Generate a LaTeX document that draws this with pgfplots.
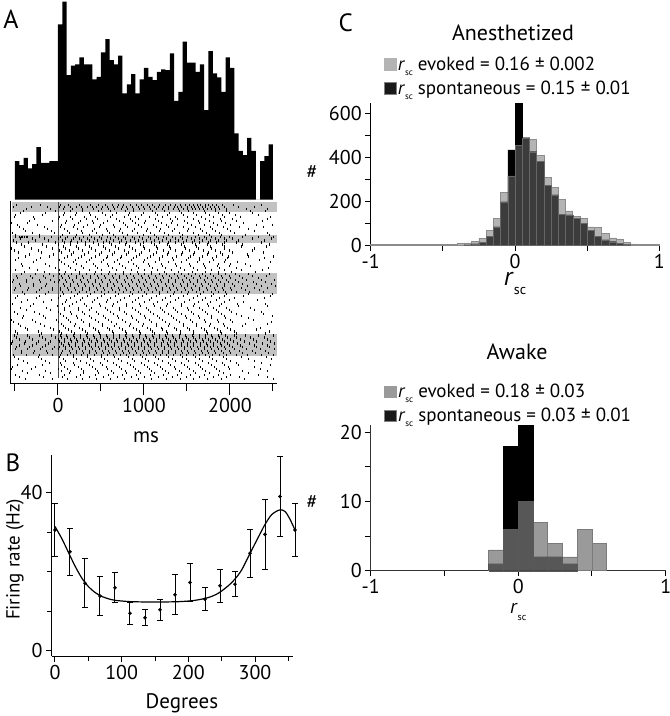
\documentclass[border=0pt]{standalone}
\usepackage{fontspec}
\setmainfont{PT Sans}
\usepackage{pgfplots}
\pgfplotsset{compat=1.18}

\definecolor{band}{HTML}{C2C2C2}
\definecolor{evA}{HTML}{B4B4B4}
\definecolor{evAe}{HTML}{8C8C8C}
\definecolor{ovA}{HTML}{3C3C3C}
\definecolor{evB}{HTML}{9A9A9A}
\definecolor{evBe}{HTML}{7A7A7A}
\definecolor{ovB}{HTML}{575757}

\newcommand\fs[1]{\fontsize{#1}{#1}\selectfont}
\newcommand\rsc[2]{\textit{r}\raisebox{#2}{\fs{#1}sc}}

\pgfplotsset{
  panel/.style={
    scale only axis, clip=false, anchor=south west,
    axis x line=bottom, axis y line=left,
    axis line style={-, line width=1pt},
    tick align=outside, tick style={black, line width=1pt},
    /pgf/number format/assume math mode=true,
  },
}

\begin{document}
\begin{tikzpicture}

% ---- A: PSTH
\begin{axis}[at={(10pt,-199.5pt)}, anchor=south west, scale only axis,
  width=267.3pt, height=197.8pt, xmin=-55.8, xmax=255, ymin=0, ymax=593,
  hide axis, clip=false]
\addplot[fill=black, draw=none, const plot] coordinates {
(-50,115)(-45,103)(-40,125)(-35,93)(-30,106)(-25,157)(-20,110)(-15,110)(-10,115)(-5,115)
(0,525)(5,593)(10,373)(15,401)(20,405)(25,426)(30,405)(35,405)(40,360)(45,368)
(50,441)(55,481)(60,418)(65,405)(70,431)(75,318)(80,345)(85,376)(90,318)(95,360)
(100,395)(105,368)(110,358)(115,383)(120,390)(125,388)(130,438)(135,296)(140,323)(145,473)
(150,410)(155,410)(160,383)(165,405)(170,268)(175,445)(180,378)(185,366)(190,323)(195,426)
(200,395)(205,198)(210,146)(215,133)(220,185)(225,146)(230,0)(235,115)(240,130)(245,165)
(250,165)} \closedcycle;
\node[font=\fs{26}] at (axis description cs:0.004,0.913) {A};
\end{axis}

% ---- A: raster
\begin{axis}[panel, at={(10pt,-383pt)},
  width=267.3pt, height=182pt, xmin=-55.8, xmax=255, ymin=0, ymax=46,
  xtick={0,100,200}, xticklabels={0,1000,2000}, minor xtick={-50,50,150,250},
  ytick=\empty, major tick length=12pt, minor tick length=8pt,
  xticklabel style={font=\fs{20}},
  xlabel={ms}, xlabel style={font=\fs{21}, at={(axis description cs:0.509,-0.297)}, anchor=center}]
\addplot[fill=band, draw=none] coordinates {(-53.5,43.2)(255,43.2)(255,45.7)(-53.5,45.7)};
\addplot[fill=band, draw=none] coordinates {(-53.5,35.4)(255,35.4)(255,37.4)(-53.5,37.4)};
\addplot[fill=band, draw=none] coordinates {(-53.5,22.5)(255,22.5)(255,27.8)(-53.5,27.8)};
\addplot[fill=band, draw=none] coordinates {(-53.5,6.8)(255,6.8)(255,12.4)(-53.5,12.4)};
\addplot[gray!60!black, line width=0.8pt] coordinates {(0,1.2)(0,45.8)};
\addplot[only marks, mark=|, mark size=1.1pt, mark options={line width=0.9pt}, black] coordinates {
(-48,45)(-20,45)(3,45)(12,45)(25,45)(38,45)(47,45)(55,45)(63,45)(70,45)(76,45)(84,45)(91,45)(97,45)(104,45)(110,45)(118,45)(125,45)(131,45)(137,45)(142,45)(148,45)(153,45)(157,45)(162,45)(166,45)(171,45)(175,45)(180,45)(184,45)(191,45)(204,45)(236,45)
(-37,44)(-9,44)(6,44)(17,44)(29,44)(41,44)(50,44)(59,44)(66,44)(74,44)(81,44)(88,44)(95,44)(101,44)(108,44)(115,44)(121,44)(128,44)(134,44)(140,44)(146,44)(151,44)(156,44)(160,44)(165,44)(169,44)(174,44)(178,44)(183,44)(188,44)(196,44)(219,44)(243,44)
(-44,43)(-15,43)(8,43)(21,43)(36,43)(52,43)(68,43)(83,43)(99,43)(113,43)(130,43)(144,43)(158,43)(171,43)(187,43)(199,43)(226,43)
(-51,42)(-28,42)(2,42)(14,42)(31,42)(44,42)(61,42)(77,42)(90,42)(106,42)(122,42)(137,42)(150,42)(167,42)(181,42)(194,42)(212,42)(247,42)
(-33,41)(-6,41)(10,41)(26,41)(40,41)(57,41)(71,41)(87,41)(102,41)(117,41)(133,41)(147,41)(163,41)(176,41)(190,41)(208,41)(238,41)
(-47,40)(-24,40)(4,40)(19,40)(34,40)(49,40)(65,40)(79,40)(94,40)(111,40)(126,40)(139,40)(155,40)(170,40)(185,40)(201,40)(231,40)(249,40)
(-40,39)(-12,39)(7,39)(23,39)(42,39)(56,39)(73,39)(89,39)(104,39)(119,39)(135,39)(152,39)(166,39)(180,39)(197,39)(221,39)
(-53,38)(-30,38)(-4,38)(13,38)(28,38)(45,38)(60,38)(75,38)(92,38)(108,38)(124,38)(141,38)(157,38)(173,38)(188,38)(205,38)(244,38)
(-49,37)(-45,37)(-43,37)(-41,37)(-39,37)(-37,37)(-35,37)(-22,37)(-8,37)(3,37)(11,37)(20,37)(30,37)(39,37)(48,37)(58,37)(67,37)(76,37)(86,37)(95,37)(105,37)(114,37)(123,37)(133,37)(142,37)(151,37)(160,37)(170,37)(179,37)(189,37)(199,37)(214,37)(233,37)(251,37)
(-52,36)(-26,36)(-11,36)(5,36)(16,36)(27,36)(37,36)(46,36)(56,36)(65,36)(74,36)(84,36)(93,36)(103,36)(112,36)(121,36)(131,36)(140,36)(149,36)(159,36)(168,36)(177,36)(187,36)(196,36)(210,36)(240,36)
(-42,35)(-18,35)(1,35)(15,35)(32,35)(47,35)(62,35)(78,35)(96,35)(112,35)(127,35)(143,35)(160,35)(174,35)(191,35)(215,35)(246,35)
(-54,34)(-31,34)(-7,34)(9,34)(24,34)(39,34)(55,34)(70,34)(86,34)(100,34)(116,34)(131,34)(148,34)(163,34)(178,34)(193,34)(228,34)
(-46,33)(-19,33)(4,33)(18,33)(35,33)(51,33)(66,33)(82,33)(97,33)(114,33)(129,33)(145,33)(159,33)(175,33)(189,33)(203,33)(239,33)
(-38,32)(-10,32)(11,32)(27,32)(43,32)(58,32)(74,32)(91,32)(107,32)(122,32)(138,32)(154,32)(168,32)(184,32)(198,32)(222,32)(250,32)
(-50,31)(-25,31)(2,31)(20,31)(37,31)(53,31)(69,31)(85,31)(101,31)(118,31)(134,31)(149,31)(165,31)(181,31)(195,31)(234,31)
(-43,30)(-14,30)(7,30)(22,30)(41,30)(57,30)(72,30)(88,30)(105,30)(120,30)(136,30)(153,30)(169,30)(186,30)(200,30)(218,30)
(-55,29)(-33,29)(-3,29)(14,29)(30,29)(46,29)(63,29)(79,29)(94,29)(110,29)(125,29)(142,29)(157,29)(172,29)(188,29)(207,29)(245,29)
(-39,28)(-16,28)(9,28)(25,28)(44,28)(60,28)(76,28)(92,28)(109,28)(124,28)(140,28)(156,28)(171,28)(187,28)(202,28)(230,28)
(-48,27)(-32,27)(-17,27)(-5,27)(4,27)(12,27)(21,27)(29,27)(38,27)(46,27)(54,27)(63,27)(71,27)(80,27)(88,27)(97,27)(105,27)(113,27)(122,27)(130,27)(139,27)(147,27)(155,27)(164,27)(172,27)(181,27)(190,27)(199,27)(211,27)(226,27)(242,27)
(-52,26)(-37,26)(-22,26)(-9,26)(2,26)(9,26)(17,26)(26,26)(34,26)(43,26)(51,26)(60,26)(68,26)(77,26)(85,26)(94,26)(102,26)(111,26)(119,26)(128,26)(136,26)(145,26)(153,26)(162,26)(170,26)(179,26)(187,26)(196,26)(206,26)(219,26)(237,26)(252,26)
(-45,25)(-28,25)(-13,25)(6,25)(14,25)(23,25)(31,25)(40,25)(48,25)(57,25)(65,25)(74,25)(82,25)(91,25)(99,25)(108,25)(116,25)(125,25)(133,25)(142,25)(150,25)(158,25)(167,25)(175,25)(184,25)(193,25)(203,25)(215,25)(231,25)(248,25)
(-50,24)(-34,24)(-19,24)(-6,24)(3,24)(11,24)(19,24)(28,24)(36,24)(45,24)(53,24)(62,24)(70,24)(79,24)(87,24)(96,24)(104,24)(113,24)(121,24)(130,24)(138,24)(147,24)(155,24)(164,24)(173,24)(182,24)(191,24)(201,24)(213,24)(228,24)(244,24)
(-41,23)(-25,23)(-11,23)(5,23)(16,23)(25,23)(33,23)(42,23)(50,23)(59,23)(67,23)(76,23)(84,23)(93,23)(101,23)(110,23)(118,23)(127,23)(135,23)(144,23)(152,23)(161,23)(169,23)(178,23)(186,23)(195,23)(208,23)(223,23)(239,23)
(-47,22)(-21,22)(3,22)(19,22)(34,22)(50,22)(67,22)(83,22)(98,22)(115,22)(131,22)(146,22)(162,22)(178,22)(193,22)(216,22)(247,22)
(-36,21)(-8,21)(10,21)(26,21)(42,21)(58,21)(73,21)(90,21)(106,21)(121,21)(137,21)(153,21)(168,21)(184,21)(199,21)(232,21)
(-53,20)(-29,20)(5,20)(17,20)(31,20)(48,20)(64,20)(80,20)(95,20)(111,20)(127,20)(143,20)(159,20)(174,20)(190,20)(209,20)(241,20)
(-44,19)(-13,19)(8,19)(24,19)(39,19)(55,19)(71,19)(87,19)(103,19)(119,19)(134,19)(150,19)(165,19)(181,19)(196,19)(224,19)
(-51,18)(-27,18)(1,18)(14,18)(29,18)(45,18)(61,18)(77,18)(93,18)(108,18)(124,18)(139,18)(155,18)(171,18)(186,18)(202,18)(236,18)
(-40,17)(-17,17)(6,17)(21,17)(37,17)(53,17)(69,17)(85,17)(100,17)(116,17)(132,17)(148,17)(163,17)(179,17)(194,17)(213,17)(249,17)
(-54,16)(-30,16)(-2,16)(12,16)(27,16)(43,16)(59,16)(75,16)(91,16)(106,16)(122,16)(138,16)(154,16)(170,16)(185,16)(200,16)(227,16)
(-46,15)(-20,15)(4,15)(20,15)(36,15)(52,15)(68,15)(84,15)(99,15)(115,15)(130,15)(146,15)(161,15)(177,15)(192,15)(218,15)(243,15)
(-38,14)(-9,14)(9,14)(25,14)(41,14)(57,14)(72,14)(88,14)(104,14)(120,14)(135,14)(151,14)(167,14)(182,14)(197,14)(235,14)
(-49,13)(-23,13)(2,13)(16,13)(32,13)(47,13)(63,13)(79,13)(95,13)(110,13)(126,13)(142,13)(158,13)(173,13)(189,13)(205,13)(246,13)
(-51,12)(-36,12)(-22,12)(-8,12)(3,12)(10,12)(18,12)(26,12)(33,12)(41,12)(49,12)(56,12)(64,12)(72,12)(79,12)(87,12)(95,12)(102,12)(110,12)(118,12)(125,12)(133,12)(141,12)(148,12)(156,12)(164,12)(171,12)(179,12)(187,12)(195,12)(205,12)(218,12)(233,12)(250,12)
(-45,11)(-30,11)(-15,11)(1,11)(7,11)(14,11)(22,11)(30,11)(37,11)(45,11)(53,11)(60,11)(68,11)(76,11)(83,11)(91,11)(99,11)(106,11)(114,11)(122,11)(129,11)(137,11)(145,11)(152,11)(160,11)(168,11)(175,11)(183,11)(191,11)(200,11)(212,11)(227,11)(243,11)
(-54,10)(-39,10)(-25,10)(-11,10)(4,10)(12,10)(20,10)(28,10)(35,10)(43,10)(51,10)(58,10)(66,10)(74,10)(81,10)(89,10)(97,10)(104,10)(112,10)(120,10)(127,10)(135,10)(143,10)(150,10)(158,10)(166,10)(173,10)(181,10)(189,10)(197,10)(209,10)(223,10)(238,10)(252,10)
(-48,9)(-33,9)(-18,9)(-4,9)(2,9)(9,9)(16,9)(24,9)(32,9)(39,9)(47,9)(55,9)(62,9)(70,9)(78,9)(85,9)(93,9)(101,9)(108,9)(116,9)(124,9)(131,9)(139,9)(147,9)(154,9)(162,9)(170,9)(177,9)(185,9)(193,9)(203,9)(215,9)(231,9)(246,9)
(-42,8)(-27,8)(-13,8)(5,8)(13,8)(21,8)(29,8)(36,8)(44,8)(52,8)(59,8)(67,8)(75,8)(82,8)(90,8)(98,8)(105,8)(113,8)(121,8)(128,8)(136,8)(144,8)(151,8)(159,8)(167,8)(174,8)(182,8)(190,8)(199,8)(211,8)(226,8)(241,8)
(-52,7)(-37,7)(-21,7)(-7,7)(3,7)(11,7)(18,7)(27,7)(34,7)(42,7)(50,7)(57,7)(65,7)(73,7)(80,7)(88,7)(96,7)(103,7)(111,7)(119,7)(126,7)(134,7)(142,7)(149,7)(157,7)(165,7)(172,7)(180,7)(188,7)(196,7)(207,7)(220,7)(236,7)(251,7)
(-46,6)(-19,6)(6,6)(22,6)(38,6)(54,6)(70,6)(86,6)(102,6)(117,6)(133,6)(149,6)(164,6)(180,6)(196,6)(221,6)(248,6)
(-35,5)(-10,5)(3,5)(18,5)(33,5)(49,5)(65,5)(81,5)(97,5)(112,5)(128,5)(144,5)(160,5)(175,5)(191,5)(207,5)(237,5)
(-53,4)(-26,4)(8,4)(24,4)(40,4)(56,4)(72,4)(88,4)(104,4)(119,4)(135,4)(151,4)(166,4)(182,4)(198,4)(229,4)
(-41,3)(-14,3)(4,3)(15,3)(30,3)(46,3)(62,3)(78,3)(94,3)(109,3)(125,3)(141,3)(157,3)(172,3)(188,3)(214,3)(244,3)
(-49,2)(-22,2)(7,2)(26,2)(43,2)(59,2)(75,2)(91,2)(107,2)(123,2)(139,2)(154,2)(170,2)(186,2)(201,2)(233,2)
(-38,1)(-6,1)(11,1)(28,1)(45,1)(61,1)(77,1)(93,1)(109,1)(126,1)(142,1)(158,1)(174,1)(190,1)(217,1)(250,1)
};
\addplot[only marks, mark=|, mark size=1.1pt, mark options={line width=0.9pt}, black] coordinates {
(-52,44.5)(-31,44.5)(-12,44.5)(2,44.5)(8,44.5)(15,44.5)(22,44.5)(27,44.5)(34,44.5)(40,44.5)(45,44.5)(52,44.5)(58,44.5)(64,44.5)(69,44.5)(75,44.5)(80,44.5)(86,44.5)(93,44.5)(99,44.5)(106,44.5)(112,44.5)(117,44.5)(123,44.5)(129,44.5)(135,44.5)(139,44.5)(144,44.5)(150,44.5)(155,44.5)(159,44.5)(163,44.5)(168,44.5)(172,44.5)(177,44.5)(182,44.5)(186,44.5)(193,44.5)(210,44.5)(228,44.5)
(-40,43.5)(-3,43.5)(14,43.5)(29,43.5)(47,43.5)(61,43.5)(79,43.5)(88,43.5)(110,43.5)(124,43.5)(141,43.5)(152,43.5)(170,43.5)(183,43.5)(196,43.5)(224,43.5)(241,43.5)
(-49,42.5)(-18,42.5)(6,42.5)(20,42.5)(38,42.5)(55,42.5)(63,42.5)(82,42.5)(97,42.5)(116,42.5)(127,42.5)(146,42.5)(161,42.5)(176,42.5)(191,42.5)(206,42.5)(233,42.5)
(-27,41.5)(1,41.5)(17,41.5)(33,41.5)(46,41.5)(68,41.5)(84,41.5)(93,41.5)(113,41.5)(131,41.5)(139,41.5)(158,41.5)(172,41.5)(189,41.5)(203,41.5)(244,41.5)
(-54,40.5)(-36,40.5)(9,40.5)(24,40.5)(41,40.5)(53,40.5)(76,40.5)(90,40.5)(101,40.5)(120,40.5)(132,40.5)(151,40.5)(164,40.5)(181,40.5)(195,40.5)(216,40.5)
(-45,39.5)(-16,39.5)(3,39.5)(18,39.5)(30,39.5)(48,39.5)(66,39.5)(81,39.5)(97,39.5)(114,39.5)(128,39.5)(146,39.5)(160,39.5)(177,39.5)(192,39.5)(211,39.5)(239,39.5)
(-38,38.5)(-8,38.5)(11,38.5)(27,38.5)(40,38.5)(58,38.5)(71,38.5)(86,38.5)(103,38.5)(118,38.5)(133,38.5)(150,38.5)(168,38.5)(183,38.5)(200,38.5)(229,38.5)
(-50,37.5)(-21,37.5)(5,37.5)(21,37.5)(37,37.5)(52,37.5)(65,37.5)(81,37.5)(99,37.5)(112,37.5)(129,37.5)(145,37.5)(163,37.5)(176,37.5)(190,37.5)(218,37.5)(246,37.5)
(-44,36.5)(-30,36.5)(-16,36.5)(1,36.5)(9,36.5)(18,36.5)(25,36.5)(34,36.5)(42,36.5)(51,36.5)(61,36.5)(70,36.5)(79,36.5)(89,36.5)(98,36.5)(108,36.5)(117,36.5)(126,36.5)(136,36.5)(145,36.5)(155,36.5)(164,36.5)(173,36.5)(183,36.5)(193,36.5)(203,36.5)(226,36.5)(248,36.5)
(-48,35.5)(-34,35.5)(-3,35.5)(8,35.5)(14,35.5)(23,35.5)(32,35.5)(41,35.5)(53,35.5)(60,35.5)(71,35.5)(80,35.5)(90,35.5)(99,35.5)(109,35.5)(118,35.5)(128,35.5)(137,35.5)(146,35.5)(156,35.5)(165,35.5)(175,35.5)(184,35.5)(194,35.5)(207,35.5)(236,35.5)
(-39,34.5)(-13,34.5)(6,34.5)(22,34.5)(37,34.5)(53,34.5)(67,34.5)(83,34.5)(99,34.5)(115,34.5)(130,34.5)(147,34.5)(161,34.5)(177,34.5)(194,34.5)(213,34.5)(242,34.5)
(-51,33.5)(-23,33.5)(2,33.5)(13,33.5)(29,33.5)(44,33.5)(60,33.5)(77,33.5)(90,33.5)(106,33.5)(123,33.5)(137,33.5)(153,33.5)(169,33.5)(183,33.5)(199,33.5)(226,33.5)
(-33,32.5)(-5,32.5)(16,32.5)(31,32.5)(48,32.5)(63,32.5)(80,32.5)(95,32.5)(111,32.5)(127,32.5)(143,32.5)(157,32.5)(174,32.5)(191,32.5)(220,32.5)
(-46,31.5)(-20,31.5)(8,31.5)(24,31.5)(39,31.5)(56,31.5)(73,31.5)(88,31.5)(104,31.5)(118,31.5)(133,31.5)(152,31.5)(165,31.5)(180,31.5)(197,31.5)(240,31.5)
(-55,30.5)(-28,30.5)(4,30.5)(18,30.5)(33,30.5)(50,30.5)(66,30.5)(82,30.5)(99,30.5)(113,30.5)(128,30.5)(144,30.5)(162,30.5)(176,30.5)(193,30.5)(209,30.5)(247,30.5)
(-41,29.5)(-10,29.5)(12,29.5)(27,29.5)(43,29.5)(59,29.5)(75,29.5)(91,29.5)(106,29.5)(121,29.5)(138,29.5)(154,29.5)(170,29.5)(185,29.5)(199,29.5)(224,29.5)
(-49,28.5)(-24,28.5)(2,28.5)(20,28.5)(36,28.5)(51,28.5)(68,28.5)(85,28.5)(100,28.5)(116,28.5)(132,28.5)(147,28.5)(162,28.5)(179,28.5)(194,28.5)(213,28.5)(238,28.5)
(-43,27.5)(-26,27.5)(-10,27.5)(2,27.5)(8,27.5)(16,27.5)(25,27.5)(33,27.5)(42,27.5)(50,27.5)(59,27.5)(67,27.5)(76,27.5)(84,27.5)(93,27.5)(101,27.5)(109,27.5)(118,27.5)(126,27.5)(135,27.5)(143,27.5)(152,27.5)(160,27.5)(168,27.5)(177,27.5)(186,27.5)(195,27.5)(206,27.5)(222,27.5)(246,27.5)
(-47,26.5)(-30,26.5)(-14,26.5)(5,26.5)(13,26.5)(21,26.5)(30,26.5)(38,26.5)(47,26.5)(55,26.5)(64,26.5)(72,26.5)(81,26.5)(89,26.5)(98,26.5)(106,26.5)(115,26.5)(123,26.5)(132,26.5)(140,26.5)(149,26.5)(157,26.5)(166,26.5)(174,26.5)(183,26.5)(191,26.5)(201,26.5)(214,26.5)(233,26.5)
(-53,25.5)(-37,25.5)(-20,25.5)(-4,25.5)(1,25.5)(10,25.5)(18,25.5)(27,25.5)(35,25.5)(44,25.5)(52,25.5)(61,25.5)(69,25.5)(78,25.5)(86,25.5)(95,25.5)(103,25.5)(112,25.5)(120,25.5)(129,25.5)(137,25.5)(146,25.5)(154,25.5)(162,25.5)(171,25.5)(180,25.5)(189,25.5)(198,25.5)(210,25.5)(227,25.5)(241,25.5)
(-44,24.5)(-29,24.5)(-14,24.5)(7,24.5)(15,24.5)(24,24.5)(32,24.5)(41,24.5)(49,24.5)(58,24.5)(66,24.5)(75,24.5)(83,24.5)(92,24.5)(100,24.5)(109,24.5)(117,24.5)(126,24.5)(134,24.5)(143,24.5)(151,24.5)(160,24.5)(168,24.5)(177,24.5)(185,24.5)(194,24.5)(205,24.5)(220,24.5)(236,24.5)(253,24.5)
(-51,23.5)(-36,23.5)(-21,23.5)(-7,23.5)(3,23.5)(12,23.5)(20,23.5)(29,23.5)(37,23.5)(46,23.5)(54,23.5)(63,23.5)(71,23.5)(80,23.5)(88,23.5)(97,23.5)(105,23.5)(114,23.5)(122,23.5)(131,23.5)(139,23.5)(148,23.5)(156,23.5)(165,23.5)(174,23.5)(183,23.5)(192,23.5)(202,23.5)(218,23.5)(234,23.5)
(-39,22.5)(-15,22.5)(6,22.5)(23,22.5)(38,22.5)(54,22.5)(70,22.5)(86,22.5)(103,22.5)(118,22.5)(134,22.5)(150,22.5)(166,22.5)(181,22.5)(196,22.5)(221,22.5)(249,22.5)
(-50,21.5)(-25,21.5)(1,21.5)(15,21.5)(29,21.5)(46,21.5)(61,21.5)(77,21.5)(94,21.5)(109,21.5)(125,21.5)(140,21.5)(157,21.5)(171,21.5)(188,21.5)(205,21.5)(240,21.5)
(-42,20.5)(-17,20.5)(9,20.5)(22,20.5)(40,20.5)(56,20.5)(69,20.5)(86,20.5)(100,20.5)(116,20.5)(131,20.5)(147,20.5)(163,20.5)(177,20.5)(194,20.5)(216,20.5)
(-55,19.5)(-32,19.5)(-1,19.5)(13,19.5)(33,19.5)(49,19.5)(63,19.5)(80,19.5)(96,19.5)(112,19.5)(126,19.5)(143,19.5)(158,19.5)(175,19.5)(188,19.5)(210,19.5)(244,19.5)
(-37,18.5)(-9,18.5)(7,18.5)(24,18.5)(37,18.5)(58,18.5)(72,18.5)(90,18.5)(105,18.5)(121,18.5)(136,18.5)(152,18.5)(168,18.5)(184,18.5)(199,18.5)(229,18.5)
(-47,17.5)(-22,17.5)(3,17.5)(16,17.5)(31,17.5)(47,17.5)(65,17.5)(80,17.5)(96,17.5)(111,17.5)(128,17.5)(144,17.5)(158,17.5)(174,17.5)(190,17.5)(207,17.5)(239,17.5)
(-41,16.5)(-14,16.5)(10,16.5)(23,16.5)(39,16.5)(55,16.5)(70,16.5)(86,16.5)(102,16.5)(118,16.5)(134,16.5)(149,16.5)(165,16.5)(179,16.5)(195,16.5)(221,16.5)
(-52,15.5)(-26,15.5)(1,15.5)(14,15.5)(30,15.5)(47,15.5)(62,15.5)(78,15.5)(93,15.5)(109,15.5)(125,15.5)(141,15.5)(156,15.5)(172,15.5)(187,15.5)(203,15.5)(248,15.5)
(-44,14.5)(-16,14.5)(6,14.5)(19,14.5)(36,14.5)(52,14.5)(66,14.5)(83,14.5)(98,14.5)(114,14.5)(129,14.5)(146,14.5)(161,14.5)(176,14.5)(193,14.5)(214,14.5)
(-35,13.5)(-5,13.5)(12,13.5)(28,13.5)(44,13.5)(60,13.5)(75,13.5)(91,13.5)(107,13.5)(122,13.5)(138,13.5)(153,13.5)(170,13.5)(185,13.5)(200,13.5)(231,13.5)
(-47,12.5)(-19,12.5)(4,12.5)(19,12.5)(34,12.5)(48,12.5)(64,12.5)(80,12.5)(96,12.5)(112,12.5)(127,12.5)(142,12.5)(158,12.5)(174,12.5)(190,12.5)(208,12.5)(241,12.5)
(-48,11.5)(-33,11.5)(-18,11.5)(-3,11.5)(4,11.5)(11,11.5)(19,11.5)(26,11.5)(34,11.5)(42,11.5)(49,11.5)(57,11.5)(65,11.5)(72,11.5)(80,11.5)(88,11.5)(95,11.5)(103,11.5)(111,11.5)(118,11.5)(126,11.5)(134,11.5)(141,11.5)(149,11.5)(157,11.5)(164,11.5)(172,11.5)(180,11.5)(188,11.5)(197,11.5)(208,11.5)(224,11.5)(240,11.5)
(-53,10.5)(-38,10.5)(-23,10.5)(-9,10.5)(2,10.5)(8,10.5)(16,10.5)(23,10.5)(31,10.5)(39,10.5)(46,10.5)(54,10.5)(62,10.5)(69,10.5)(77,10.5)(85,10.5)(92,10.5)(100,10.5)(108,10.5)(115,10.5)(123,10.5)(131,10.5)(138,10.5)(146,10.5)(154,10.5)(161,10.5)(169,10.5)(177,10.5)(185,10.5)(194,10.5)(204,10.5)(217,10.5)(231,10.5)(247,10.5)
(-45,9.5)(-30,9.5)(-14,9.5)(6,9.5)(13,9.5)(20,9.5)(28,9.5)(36,9.5)(43,9.5)(51,9.5)(59,9.5)(66,9.5)(74,9.5)(82,9.5)(89,9.5)(97,9.5)(105,9.5)(112,9.5)(120,9.5)(128,9.5)(135,9.5)(143,9.5)(151,9.5)(158,9.5)(166,9.5)(174,9.5)(181,9.5)(190,9.5)(199,9.5)(212,9.5)(229,9.5)(244,9.5)
(-50,8.5)(-35,8.5)(-20,8.5)(-6,8.5)(1,8.5)(9,8.5)(17,8.5)(25,8.5)(32,8.5)(40,8.5)(48,8.5)(55,8.5)(63,8.5)(71,8.5)(78,8.5)(86,8.5)(94,8.5)(101,8.5)(109,8.5)(117,8.5)(124,8.5)(132,8.5)(140,8.5)(147,8.5)(155,8.5)(163,8.5)(170,8.5)(178,8.5)(186,8.5)(195,8.5)(205,8.5)(219,8.5)(235,8.5)(252,8.5)
(-43,7.5)(-28,7.5)(-12,7.5)(4,7.5)(14,7.5)(22,7.5)(30,7.5)(37,7.5)(45,7.5)(53,7.5)(60,7.5)(68,7.5)(76,7.5)(83,7.5)(91,7.5)(99,7.5)(106,7.5)(114,7.5)(122,7.5)(129,7.5)(137,7.5)(145,7.5)(152,7.5)(160,7.5)(168,7.5)(175,7.5)(183,7.5)(192,7.5)(201,7.5)(214,7.5)(230,7.5)(245,7.5)
(-51,6.5)(-23,6.5)(2,6.5)(18,6.5)(34,6.5)(50,6.5)(66,6.5)(82,6.5)(98,6.5)(113,6.5)(129,6.5)(145,6.5)(160,6.5)(176,6.5)(192,6.5)(213,6.5)(242,6.5)
(-40,5.5)(-14,5.5)(9,5.5)(26,5.5)(41,5.5)(57,5.5)(74,5.5)(89,5.5)(105,5.5)(121,5.5)(137,5.5)(152,5.5)(168,5.5)(184,5.5)(200,5.5)(228,5.5)
(-47,4.5)(-18,4.5)(4,4.5)(19,4.5)(36,4.5)(52,4.5)(68,4.5)(84,4.5)(100,4.5)(116,4.5)(131,4.5)(147,4.5)(163,4.5)(178,4.5)(194,4.5)(210,4.5)(247,4.5)
(-54,3.5)(-31,3.5)(1,3.5)(11,3.5)(27,3.5)(43,3.5)(58,3.5)(74,3.5)(90,3.5)(106,3.5)(121,3.5)(137,3.5)(153,3.5)(168,3.5)(184,3.5)(199,3.5)(235,3.5)
(-36,2.5)(-9,2.5)(13,2.5)(30,2.5)(47,2.5)(64,2.5)(80,2.5)(96,2.5)(112,2.5)(128,2.5)(144,2.5)(160,2.5)(176,2.5)(192,2.5)(221,2.5)
(-45,1.5)(-17,1.5)(5,1.5)(21,1.5)(37,1.5)(53,1.5)(69,1.5)(85,1.5)(101,1.5)(117,1.5)(133,1.5)(149,1.5)(165,1.5)(181,1.5)(196,1.5)(211,1.5)(243,1.5)
};
\end{axis}

% ---- B: tuning curve
\begin{axis}[panel, at={(52pt,-656pt)},
  width=241pt, height=201pt, xmin=-4.5, xmax=357, ymin=-1.3, ymax=49.6,
  xtick={0,100,200,300}, minor xtick={50,150,250,350},
  ytick={0,40}, minor ytick={10,20,30,50},
  major tick length=6pt, minor tick length=4.5pt,
  tick label style={font=\fs{20}},
  xlabel={Degrees}, xlabel style={font=\fs{21}, at={(axis description cs:0.539,-0.234)}, anchor=center},
  ylabel={Firing rate (Hz)}, ylabel style={font=\fs{19}, at={(axis description cs:-0.154,0.48)}, anchor=center}]
\addplot[black, line width=1.2pt, smooth] coordinates {
(0,31.5)(10,28.5)(20,25.0)(30,21.5)(40,18.5)(50,16.3)(60,14.8)(70,13.8)(80,13.2)(90,12.8)
(110,12.5)(130,12.4)(150,12.4)(170,12.4)(190,12.5)(210,12.8)(230,13.5)(245,14.6)(260,16.5)
(270,18.2)(280,20.5)(292,24.5)(305,28.8)(315,32.0)(325,34.5)(337,35.7)(345,35.3)(352,33.5)(360,30.6)};
\addplot[black, only marks, mark=*, mark size=1.6pt,
  error bars/.cd, y dir=both, y explicit,
  error bar style={line width=1pt, black},
  error mark options={rotate=90, mark size=3pt, line width=1pt, black}] coordinates {
(0,30.6) +- (0,6.8)
(22.5,25.1) +- (0,6.0)
(45,17.1) +- (0,6.2)
(67.5,13.9) +- (0,5.0)
(90,16.0) +- (0,3.8)
(112.5,9.5) +- (0,2.7)
(135,8.4) +- (0,2.0)
(157.5,10.4) +- (0,2.7)
(180,14.2) +- (0,5.1)
(202.5,17.3) +- (0,4.8)
(225,13.1) +- (0,2.9)
(247.5,16.5) +- (0,4.2)
(270,16.9) +- (0,3.1)
(292.5,24.7) +- (0,6.0)
(315,29.5) +- (0,8.8)
(337.5,39.1) +- (0,10.1)
(360,30.6) +- (0,6.8)};
\node[font=\fs{25}] at (axis description cs:-0.162,0.96) {B};
\end{axis}

% ---- C: anesthetized
\begin{axis}[panel, at={(370.7pt,-245pt)},
  width=288.6pt, height=142.2pt, xmin=-1, xmax=1, ymin=0, ymax=648,
  axis line style={-, line width=1.2pt},
  xtick={-1,0,1}, minor xtick={-0.5,0.5},
  ytick={0,200,400,600}, minor ytick={100,300,500},
  major tick length=5.5pt, minor tick length=5.5pt,
  tick label style={font=\fs{20}},
  xlabel={\rsc{14}{-9pt}},
  every axis x label/.style={at={(axis description cs:0.5,-0.27)}, anchor=center, font=\fs{26}},
  ylabel={\#},
  every axis y label/.style={at={(axis description cs:-0.203,0.513)}, anchor=center, font=\fs{20}},
  title={Anesthetized},
  every axis title/.style={at={(axis description cs:0.493,1.491)}, anchor=center, font=\fs{22}},
  legend style={at={(axis description cs:0.045,1.335)}, anchor=north west, draw=none, fill=none,
    inner sep=0pt, font=\fs{19}, row sep=6pt, nodes={inner sep=1.5pt}},
  legend cell align=left]
\addplot[ybar interval, fill=evA, draw=evAe, line width=0.5pt, forget plot] coordinates {
(-1,2)(-0.95,2)(-0.9,2)(-0.85,2)(-0.8,2)(-0.75,2)(-0.7,2)(-0.65,2)(-0.6,2)(-0.55,2)
(-0.5,3)(-0.45,4)(-0.4,6)(-0.35,10)(-0.3,15)(-0.25,30)(-0.2,68)(-0.15,121)(-0.1,240)(-0.05,315)
(0,455)(0.05,492)(0.1,481)(0.15,410)(0.2,307)(0.25,261)(0.3,208)(0.35,155)(0.4,132)(0.45,121)
(0.5,83)(0.55,79)(0.6,53)(0.65,33)(0.7,26)(0.75,11)(0.8,5)(0.85,3)(0.9,2)(0.95,2)(1,2)};
\addplot[ybar interval, fill=black, draw=black, line width=0.3pt, forget plot] coordinates {
(-0.35,1)(-0.3,5)(-0.25,11)(-0.2,41)(-0.15,83)(-0.1,197)(-0.05,433)
(0,645)(0.05,486)(0.1,425)(0.15,380)(0.2,273)(0.25,228)(0.3,140)(0.35,137)(0.4,121)(0.45,99)
(0.5,68)(0.55,41)(0.6,23)(0.65,15)(0.7,8)(0.75,3)(0.8,1)};
\addplot[ybar interval, fill=ovA, draw=gray!80!black, line width=0.4pt, forget plot] coordinates {
(-0.35,1)(-0.3,5)(-0.25,11)(-0.2,41)(-0.15,83)(-0.1,197)(-0.05,315)
(0,455)(0.05,486)(0.1,425)(0.15,380)(0.2,273)(0.25,228)(0.3,140)(0.35,137)(0.4,121)(0.45,99)
(0.5,68)(0.55,41)(0.6,23)(0.65,15)(0.7,8)(0.75,3)(0.8,1)};
\addlegendimage{legend image code/.code={\draw[fill=evA, draw=evA] (0pt,-5.5pt) rectangle (12pt,6pt);}}
\addlegendentry{\rsc{9}{-5pt} evoked = 0.16 ± 0.002}
\addlegendimage{legend image code/.code={\draw[fill=black!90, draw=gray] (0pt,-5.5pt) rectangle (12pt,6pt);}}
\addlegendentry{\rsc{9}{-5pt} spontaneous = 0.15 ± 0.01}
\node[font=\fs{25}] at (axis description cs:-0.086,1.561) {C};
\end{axis}

% ---- C: awake
\begin{axis}[panel, at={(370.7pt,-570.7pt)},
  width=295pt, height=145.3pt, xmin=-1, xmax=1, ymin=0, ymax=21,
  axis line style={-, line width=1.4pt, black!80},
  xtick={-1,0,1}, minor xtick={-0.5,0.5},
  ytick={0,10,20}, minor ytick={5,15},
  major tick length=5.5pt, minor tick length=5.5pt,
  tick label style={font=\fs{20}},
  xlabel={\rsc{10}{-7pt}},
  every axis x label/.style={at={(axis description cs:0.5,-0.284)}, anchor=center, font=\fs{20}},
  ylabel={\#},
  every axis y label/.style={at={(axis description cs:-0.199,0.473)}, anchor=center, font=\fs{20}},
  title={Awake},
  every axis title/.style={at={(axis description cs:0.496,1.505)}, anchor=center, font=\fs{22}},
  legend style={at={(axis description cs:0.045,1.295)}, anchor=north west, draw=none, fill=none,
    inner sep=0pt, font=\fs{19}, row sep=6pt, nodes={inner sep=1.5pt}},
  legend cell align=left]
\addplot[ybar interval, fill=evB, draw=evBe, line width=0.5pt, forget plot] coordinates {
(-0.2,3)(-0.1,6)(0,10)(0.1,7)(0.2,4)(0.3,2)(0.4,6)(0.5,4)(0.6,4)};
\addplot[ybar interval, fill=black, draw=black, line width=0.3pt, forget plot] coordinates {
(-0.2,1)(-0.1,18)(0,21)(0.1,2)(0.2,2)(0.3,1)(0.4,1)};
\addplot[ybar interval, fill=ovB, draw=gray!70!black, line width=0.4pt, forget plot] coordinates {
(-0.2,1)(-0.1,6)(0,10)(0.1,2)(0.2,2)(0.3,1)(0.4,1)};
\addlegendimage{legend image code/.code={\draw[fill=evB, draw=evB] (0pt,-5.5pt) rectangle (12pt,6pt);}}
\addlegendentry{\rsc{9}{-5pt} evoked = 0.18 ± 0.03}
\addlegendimage{legend image code/.code={\draw[fill=black!90, draw=gray] (0pt,-5.5pt) rectangle (12pt,6pt);}}
\addlegendentry{\rsc{9}{-5pt} spontaneous = 0.03 ± 0.01}
\end{axis}

\pgfresetboundingbox
\useasboundingbox (0,0) rectangle (670pt,-716pt);
\end{tikzpicture}
\end{document}
